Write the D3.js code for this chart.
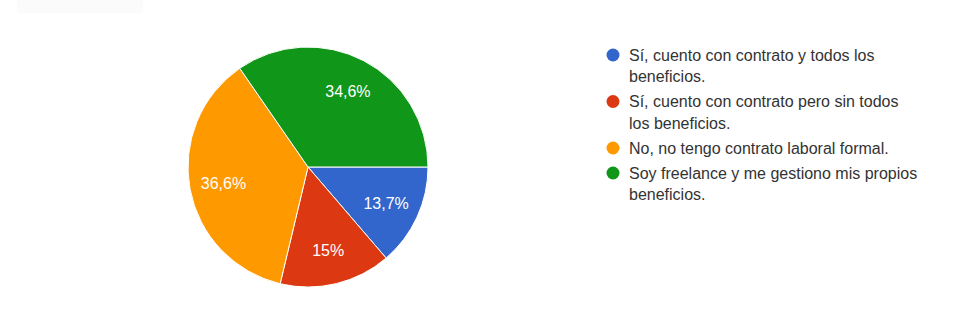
<!DOCTYPE html>
<html>
<head>
<meta charset="utf-8">
<script src="https://cdn.jsdelivr.net/npm/d3@7"></script>
<style>
  body { margin: 0; background: #fff; }
  svg { display: block; font-family: "Liberation Sans", Arial, sans-serif; }
</style>
</head>
<body>
<div id="chart"></div>
<script>
// Answers and their shares (%)
const categories = [
  "Sí, cuento con contrato y todos los beneficios.",
  "Sí, cuento con contrato pero sin todos los beneficios.",
  "No, no tengo contrato laboral formal.",
  "Soy freelance y me gestiono mis propios beneficios."
];
const values = [13.7, 15, 36.6, 34.6];
const valueLabels = ["13,7%", "15%", "36,6%", "34,6%"];
const colors = ["#3366cc", "#dc3912", "#ff9900", "#109618"];

const W = 972, H = 332;
const cx = 308, cy = 167, radius = 120;

const svg = d3.select("#chart").append("svg")
  .attr("width", W)
  .attr("height", H);

// faint strip at the top left of the screenshot
svg.append("rect")
  .attr("x", 17).attr("y", 0)
  .attr("width", 126).attr("height", 13)
  .attr("fill", "#fbfbfb");

const pie = d3.pie()
  .value(d => d)
  .sort(null)
  .startAngle(Math.PI / 2)
  .endAngle(Math.PI / 2 + 2 * Math.PI);

const arcs = pie(values);
const arc = d3.arc().innerRadius(0).outerRadius(radius);
const labelArc = d3.arc().innerRadius(86).outerRadius(86);

const g = svg.append("g").attr("transform", `translate(${cx},${cy})`);

g.selectAll("path.slice")
  .data(arcs)
  .enter()
  .append("path")
  .attr("class", "slice")
  .attr("d", arc)
  .attr("fill", (d, i) => colors[i])
  .attr("stroke", "#fff")
  .attr("stroke-width", 1);

g.selectAll("text.pct")
  .data(arcs)
  .enter()
  .append("text")
  .attr("class", "pct")
  .attr("transform", d => `translate(${labelArc.centroid(d)})`)
  .attr("text-anchor", "middle")
  .attr("dy", "0.36em")
  .attr("fill", "#fff")
  .style("font-size", "16px")
  .text((d, i) => valueLabels[i]);

// Legend
const legendX = 613, textX = 629, maxTextWidth = 291;
const lineHeight = 21.5, itemGap = 25;

const legend = svg.append("g");
let y = 55;

categories.forEach((label, i) => {
  const item = legend.append("g");
  item.append("circle")
    .attr("cx", legendX)
    .attr("cy", y)
    .attr("r", 6.5)
    .attr("fill", colors[i]);

  const text = item.append("text")
    .attr("x", textX)
    .attr("fill", "#333")
    .style("font-size", "16px");

  // word wrap to the legend width
  const words = label.split(" ");
  let line = [];
  let lineNo = 0;
  let tspan = text.append("tspan").attr("x", textX).attr("y", y).attr("dy", "0.36em");
  words.forEach(w => {
    line.push(w);
    tspan.text(line.join(" "));
    if (tspan.node().getComputedTextLength() > maxTextWidth && line.length > 1) {
      line.pop();
      tspan.text(line.join(" "));
      line = [w];
      lineNo++;
      tspan = text.append("tspan")
        .attr("x", textX)
        .attr("y", y + lineNo * lineHeight)
        .attr("dy", "0.36em")
        .text(w);
    }
  });
  y += lineNo * lineHeight + itemGap;
});
</script>
</body>
</html>
